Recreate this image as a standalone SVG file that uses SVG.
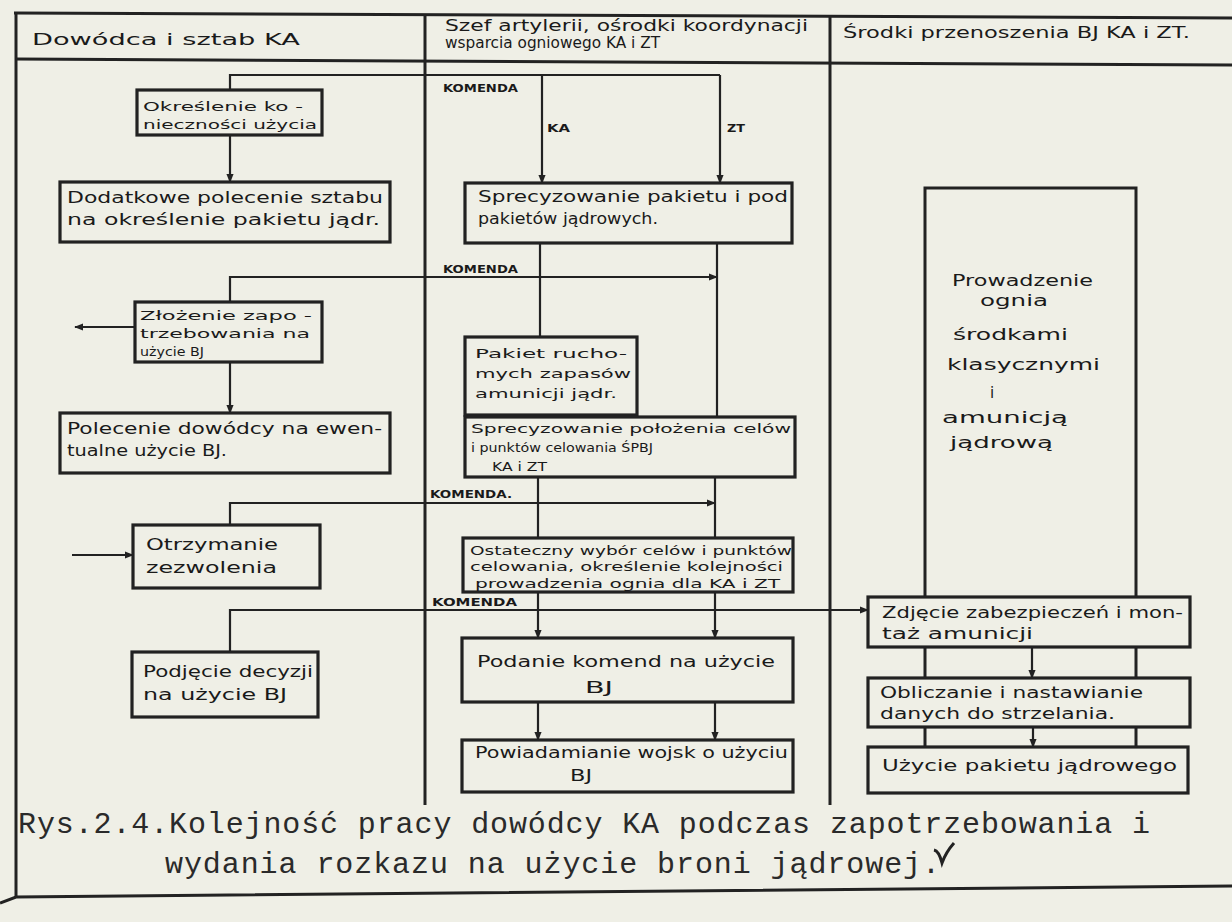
<svg xmlns="http://www.w3.org/2000/svg" width="1232" height="922" viewBox="0 0 1232 922">
<defs>
<style>
.bg{fill:#efefe6}
.box{fill:#efefe6;stroke:#222;stroke-width:3.2}
.fr{fill:none;stroke:#222;stroke-width:3}
.ln{fill:none;stroke:#222;stroke-width:2.2}
.t{font-family:"DejaVu Sans",sans-serif;fill:#1a1a1a;font-size:15px}
.s{font-size:13px}
.k{font-family:"DejaVu Sans",sans-serif;fill:#1a1a1a;font-size:10px;font-weight:bold}
.cap{font-family:"Liberation Mono",monospace;fill:#2a2a2a;font-size:30px}
</style>
<marker id="ah" viewBox="0 0 10 10" refX="9" refY="5" markerWidth="9" markerHeight="9" markerUnits="userSpaceOnUse" orient="auto"><path d="M0,1 L10,5 L0,9 z" fill="#222"/></marker>
</defs>
<rect class="bg" x="0" y="0" width="1232" height="922"/>
<g id="frame">
<path class="fr" d="M14,13 L1232,18"/>
<path class="fr" d="M15,59 L1232,65" stroke-width="3.5"/>
<path class="fr" d="M16,13 V897"/>
<path class="fr" d="M425,14 V805"/>
<path class="fr" d="M830,16 V805"/>
<path class="fr" d="M0,903 L16,897 L1232,886" stroke-width="3.5"/>
<text class="t" x="32" y="45" font-size="22" textLength="268" lengthAdjust="spacingAndGlyphs">Dowódca i sztab KA</text>
<text class="t" x="445" y="31" font-size="17" textLength="363" lengthAdjust="spacingAndGlyphs">Szef artylerii, ośrodki koordynacji</text>
<text class="t" x="445" y="48" font-size="17" textLength="215" lengthAdjust="spacingAndGlyphs">wsparcia ogniowego KA i ZT</text>
<text class="t" x="843" y="38" font-size="18" textLength="347" lengthAdjust="spacingAndGlyphs">Środki przenoszenia BJ KA i ZT.</text>
</g>
<g id="connectors">
<path class="ln" d="M230,90 V75 H720"/>
<path class="ln" d="M542,75 V183" marker-end="url(#ah)"/>
<path class="ln" d="M720,75 V183" marker-end="url(#ah)"/>
<path class="ln" d="M230,135 V182" marker-end="url(#ah)"/>
<path class="ln" d="M230,302 V277 H717" marker-end="url(#ah)"/>
<path class="ln" d="M540,243 V337"/>
<path class="ln" d="M717,243 V417"/>
<path class="ln" d="M135,327 H75" marker-end="url(#ah)"/>
<path class="ln" d="M230,362 V413" marker-end="url(#ah)"/>
<path class="ln" d="M230,525 V503 H715" marker-end="url(#ah)"/>
<path class="ln" d="M538,477 V538"/>
<path class="ln" d="M715,477 V538"/>
<path class="ln" d="M72,555 H133" marker-end="url(#ah)"/>
<path class="ln" d="M230,652 V610 H868" marker-end="url(#ah)"/>
<path class="ln" d="M538,592 V638" marker-end="url(#ah)"/>
<path class="ln" d="M715,592 V638" marker-end="url(#ah)"/>
<path class="ln" d="M538,702 V740" marker-end="url(#ah)"/>
<path class="ln" d="M715,702 V740" marker-end="url(#ah)"/>
<path class="ln" d="M1032,647 V678" marker-end="url(#ah)"/>
<path class="ln" d="M1033,727 V747" marker-end="url(#ah)"/>
<text class="k" x="443" y="92" textLength="75" lengthAdjust="spacingAndGlyphs">KOMENDA</text>
<text class="k" x="547" y="132" font-size="11" textLength="23" lengthAdjust="spacingAndGlyphs">KA</text>
<text class="k" x="727" y="132" font-size="11" textLength="18" lengthAdjust="spacingAndGlyphs">ZT</text>
<text class="k" x="443" y="273" textLength="75" lengthAdjust="spacingAndGlyphs">KOMENDA</text>
<text class="k" x="430" y="498" textLength="82" lengthAdjust="spacingAndGlyphs">KOMENDA.</text>
<text class="k" x="432" y="606" textLength="85" lengthAdjust="spacingAndGlyphs">KOMENDA</text>
</g>
<g id="b1"><rect class="box" x="137" y="90" width="185" height="45"/>
<text class="t s" x="143" y="111" textLength="160" lengthAdjust="spacingAndGlyphs">Określenie ko -</text>
<text class="t s" x="143" y="129" textLength="174" lengthAdjust="spacingAndGlyphs">nieczności użycia</text></g>
<g id="b2"><rect class="box" x="60" y="182" width="330" height="60"/>
<text class="t" x="67" y="203" textLength="316" lengthAdjust="spacingAndGlyphs">Dodatkowe polecenie sztabu</text>
<text class="t" x="67" y="225" textLength="313" lengthAdjust="spacingAndGlyphs">na określenie pakietu jądr.</text></g>
<g id="b3"><rect class="box" x="135" y="302" width="187" height="60"/>
<text class="t s" x="140" y="320" textLength="172" lengthAdjust="spacingAndGlyphs">Złożenie zapo -</text>
<text class="t s" x="140" y="338" textLength="170" lengthAdjust="spacingAndGlyphs">trzebowania na</text>
<text class="t s" x="140" y="356" textLength="64" lengthAdjust="spacingAndGlyphs">użycie BJ</text></g>
<g id="b4"><rect class="box" x="60" y="413" width="330" height="60"/>
<text class="t" x="67" y="434" textLength="315" lengthAdjust="spacingAndGlyphs">Polecenie dowódcy na ewen-</text>
<text class="t" x="67" y="456" textLength="160" lengthAdjust="spacingAndGlyphs">tualne użycie BJ.</text></g>
<g id="b5"><rect class="box" x="133" y="525" width="187" height="63"/>
<text class="t" x="146" y="550" textLength="132" lengthAdjust="spacingAndGlyphs">Otrzymanie</text>
<text class="t" x="146" y="573" textLength="131" lengthAdjust="spacingAndGlyphs">zezwolenia</text></g>
<g id="b6"><rect class="box" x="132" y="652" width="186" height="65"/>
<text class="t" x="143" y="677" textLength="170" lengthAdjust="spacingAndGlyphs">Podjęcie decyzji</text>
<text class="t" x="143" y="700" textLength="144" lengthAdjust="spacingAndGlyphs">na użycie BJ</text></g>
<g id="m1"><rect class="box" x="465" y="183" width="327" height="60"/>
<text class="t" x="478" y="202" textLength="310" lengthAdjust="spacingAndGlyphs">Sprecyzowanie pakietu i pod</text>
<text class="t" x="478" y="224" textLength="180" lengthAdjust="spacingAndGlyphs">pakietów jądrowych.</text></g>
<g id="m2"><rect class="box" x="465" y="337" width="172" height="78"/>
<text class="t s" x="475" y="358" textLength="152" lengthAdjust="spacingAndGlyphs">Pakiet rucho-</text>
<text class="t s" x="475" y="378" textLength="156" lengthAdjust="spacingAndGlyphs">mych zapasów</text>
<text class="t s" x="475" y="398" textLength="142" lengthAdjust="spacingAndGlyphs">amunicji jądr.</text></g>
<g id="m3"><rect class="box" x="465" y="417" width="330" height="60"/>
<text class="t s" x="471" y="433" textLength="320" lengthAdjust="spacingAndGlyphs">Sprecyzowanie położenia celów</text>
<text class="t s" x="471" y="452" textLength="182" lengthAdjust="spacingAndGlyphs">i punktów celowania ŚPBJ</text>
<text class="t s" x="492" y="471" textLength="55" lengthAdjust="spacingAndGlyphs">KA i ZT</text></g>
<g id="m4"><rect class="box" x="463" y="538" width="330" height="54"/>
<text class="t s" x="470" y="555" textLength="322" lengthAdjust="spacingAndGlyphs">Ostateczny wybór celów i punktów</text>
<text class="t s" x="470" y="571" textLength="313" lengthAdjust="spacingAndGlyphs">celowania, określenie kolejności</text>
<text class="t s" x="475" y="588" textLength="305" lengthAdjust="spacingAndGlyphs">prowadzenia ognia dla KA i ZT</text></g>
<g id="m5"><rect class="box" x="462" y="638" width="331" height="64"/>
<text class="t" x="477" y="667" font-size="18" textLength="298" lengthAdjust="spacingAndGlyphs">Podanie komend na użycie</text>
<text class="t" x="585" y="693" font-size="18" textLength="28" lengthAdjust="spacingAndGlyphs">BJ</text></g>
<g id="m6"><rect class="box" x="462" y="740" width="331" height="52"/>
<text class="t" x="475" y="758" textLength="313" lengthAdjust="spacingAndGlyphs">Powiadamianie wojsk o użyciu</text>
<text class="t" x="570" y="781" textLength="22" lengthAdjust="spacingAndGlyphs">BJ</text></g>
<g id="r1"><path class="fr" d="M925,748 V188 H1136 V748"/>
<text class="t" x="952" y="286" font-size="20" textLength="141" lengthAdjust="spacingAndGlyphs">Prowadzenie</text>
<text class="t" x="980" y="306" font-size="20" textLength="68" lengthAdjust="spacingAndGlyphs">ognia</text>
<text class="t" x="953" y="340" font-size="20" textLength="115" lengthAdjust="spacingAndGlyphs">środkami</text>
<text class="t" x="947" y="370" font-size="20" textLength="153" lengthAdjust="spacingAndGlyphs">klasycznymi</text>
<text class="t" x="990" y="398" font-size="20">i</text>
<text class="t" x="942" y="423" font-size="20" textLength="126" lengthAdjust="spacingAndGlyphs">amunicją</text>
<text class="t" x="950" y="448" font-size="20" textLength="103" lengthAdjust="spacingAndGlyphs">jądrową</text></g>
<g id="r2"><rect class="box" x="868" y="597" width="322" height="50"/>
<text class="t" x="882" y="618" textLength="301" lengthAdjust="spacingAndGlyphs">Zdjęcie zabezpieczeń i mon-</text>
<text class="t" x="882" y="639" textLength="151" lengthAdjust="spacingAndGlyphs">taż amunicji</text></g>
<g id="r3"><rect class="box" x="868" y="678" width="322" height="49"/>
<text class="t" x="880" y="698" textLength="263" lengthAdjust="spacingAndGlyphs">Obliczanie i nastawianie</text>
<text class="t" x="880" y="719" textLength="235" lengthAdjust="spacingAndGlyphs">danych do strzelania.</text></g>
<g id="r4"><rect class="box" x="868" y="747" width="320" height="46"/>
<text class="t" x="882" y="771" font-size="16" textLength="295" lengthAdjust="spacingAndGlyphs">Użycie pakietu jądrowego</text></g>
<g id="caption">
<text class="cap" x="18" y="833" textLength="1132" lengthAdjust="spacing">Rys.2.4.Kolejność pracy dowódcy KA podczas zapotrzebowania i</text>
<text class="cap" x="165" y="873" textLength="775" lengthAdjust="spacing">wydania rozkazu na użycie broni jądrowej.</text>
<path d="M934,850 Q939,851 942,863 Q946,852 954,843" fill="none" stroke="#222" stroke-width="3"/>
</g>
</svg>
